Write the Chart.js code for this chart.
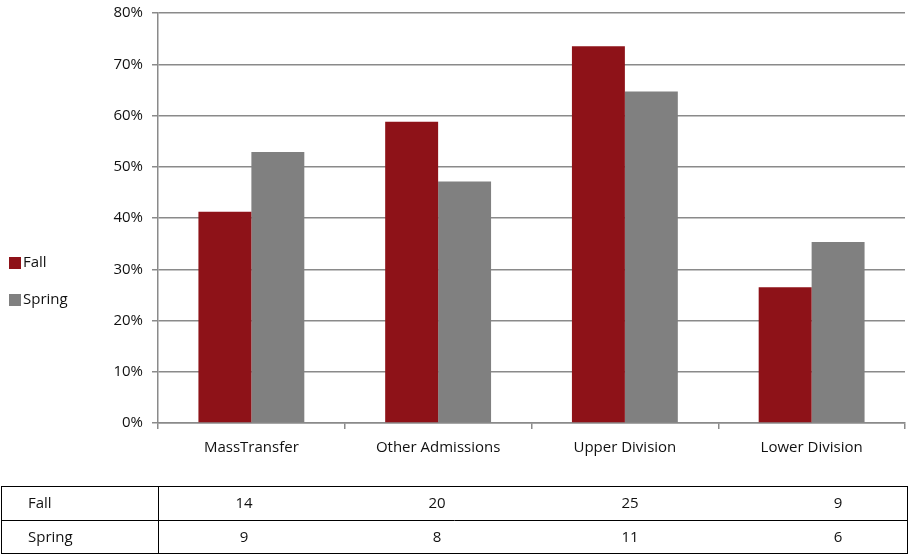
<!DOCTYPE html>
<html>
<head>
<meta charset="utf-8">
<script src="https://cdn.jsdelivr.net/npm/chart.js@4"></script>
<style>
  html, body { margin: 0; padding: 0; background: #fff; }
  #wrap { width: 909px; height: 555px; position: relative; }
</style>
</head>
<body>
<div id="wrap"><canvas id="chart"></canvas></div>
<script>
const categories = ['MassTransfer', 'Other Admissions', 'Upper Division', 'Lower Division']
const fallPct = [41.2, 58.8, 73.5, 26.5]
const springPct = [52.9, 47.1, 64.7, 35.3]
const fallCounts = [14, 20, 25, 9]
const springCounts = [9, 8, 11, 6]

const FONT = "'Open Sans', sans-serif"
const fallColor = '#8e1218'
const springColor = '#808080'
// where the data-table cells sit (the table does not follow the bar centres exactly)
const tableCols = [244, 437, 630, 838]

// legend on the left and the data table under the chart
const extras = {
  id: 'extras',
  afterDraw(chart) {
    const ctx = chart.ctx
    ctx.save()
    ctx.font = '15px ' + FONT
    ctx.textBaseline = 'middle'

    const legend = [['Fall', fallColor, 263], ['Spring', springColor, 300]]
    legend.forEach(([label, color, y]) => {
      ctx.fillStyle = color
      ctx.fillRect(9, y - 6, 12, 12)
      ctx.fillStyle = '#111'
      ctx.textAlign = 'left'
      ctx.fillText(label, 23, y)
    })

    // table
    const top = 486, mid = 520, bottom = 553
    ctx.strokeStyle = '#000'
    ctx.lineWidth = 1
    ctx.strokeRect(1.5, top + 0.5, 906, bottom - top)
    ctx.beginPath()
    ctx.moveTo(1.5, mid + 0.5); ctx.lineTo(907.5, mid + 0.5)
    ctx.moveTo(158.5, top); ctx.lineTo(158.5, bottom)
    ctx.stroke()

    const rows = [['Fall', fallCounts, (top + mid) / 2 + 1], ['Spring', springCounts, (mid + bottom) / 2 + 1]]
    rows.forEach(([label, vals, y]) => {
      ctx.fillStyle = '#111'
      ctx.textAlign = 'left'
      ctx.fillText(label, 28, y)
      ctx.textAlign = 'center'
      vals.forEach((v, i) => ctx.fillText(String(v), tableCols[i], y))
    })
    ctx.restore()
  }
}

new Chart(document.getElementById('chart'), {
  type: 'bar',
  data: {
    labels: categories,
    datasets: [
      { label: 'Fall', data: fallPct, backgroundColor: fallColor },
      { label: 'Spring', data: springPct, backgroundColor: springColor }
    ]
  },
  options: {
    responsive: true,
    maintainAspectRatio: false,
    animation: false,
    layout: { padding: { left: 0, top: 13, right: 4, bottom: 92 } },
    datasets: {
      bar: { categoryPercentage: 0.567, barPercentage: 1.0 }
    },
    plugins: {
      legend: { display: false },
      tooltip: { enabled: false }
    },
    scales: {
      x: {
        afterFit(scale) {
          scale.height = 40
          scale.paddingLeft = 0
          scale.paddingRight = 0
        },
        grid: {
          offset: true,
          drawOnChartArea: false,
          color: '#8a8a8a',
          lineWidth: 1.5,
          tickLength: 6
        },
        border: { color: '#8a8a8a', width: 1.5 },
        ticks: {
          color: '#111',
          font: { family: FONT, size: 15 },
          padding: 10
        }
      },
      y: {
        min: 0,
        max: 80,
        afterFit(scale) {
          scale.width = 158
          scale.paddingTop = 0
          scale.paddingBottom = 0
        },
        grid: {
          color: '#8a8a8a',
          lineWidth: 1.5,
          tickLength: 6
        },
        border: { color: '#8a8a8a', width: 1.5 },
        ticks: {
          stepSize: 10,
          color: '#111',
          font: { family: FONT, size: 15 },
          padding: 9,
          callback: function(value) {
            return value + '%'
          }
        }
      }
    }
  },
  plugins: [extras]
})
</script>
</body>
</html>
